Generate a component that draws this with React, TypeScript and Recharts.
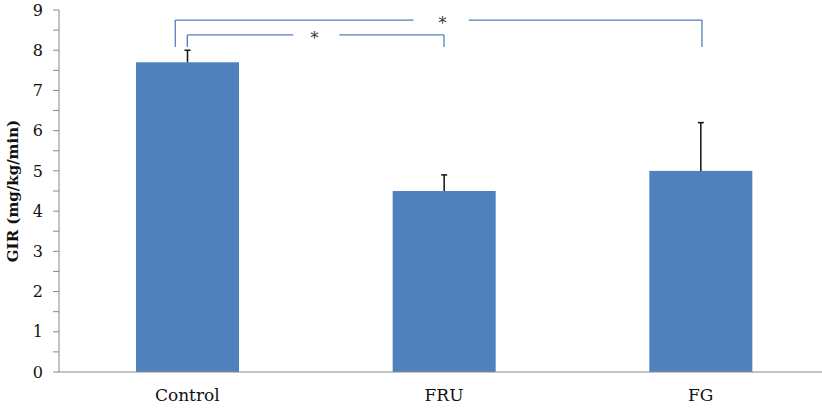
import {
  BarChart,
  Bar,
  XAxis,
  YAxis,
  ReferenceLine,
  ReferenceDot,
} from "recharts";

const groups = ["Control", "FRU", "FG"];
const gir = [7.7, 4.5, 5.0];
const errUp = [0.3, 0.4, 1.2];
const yTicks = [0, 0.5, 1, 1.5, 2, 2.5, 3, 3.5, 4, 4.5, 5, 5.5, 6, 6.5, 7, 7.5, 8, 8.5, 9];

// significance brackets, x in band units (0..3, band centres at 0.5/1.5/2.5)
const brackets = [
  { x1: 0.5, x2: 1.5, y: 8.38, foot: 8.08, gap: [0.913, 1.092], star: 0.995 },
  { x1: 0.453, x2: 2.505, y: 8.75, foot: 8.08, gap: [1.381, 1.596], star: 1.494 },
];

const data = groups.map((g, i) => ({ group: g, pos: i + 0.5, gir: gir[i], err: errUp[i] }));

const FONT = "'DejaVu Serif', serif";
const BLUE = "#4F81BD";

// bar + upward-only error whisker (px per unit taken from the bar itself)
const BarWithErr = (props: any) => {
  const { x, y, width, height, payload } = props;
  const ppu = height / payload.gir;
  const cx = x + width / 2;
  const top = y - payload.err * ppu;
  return (
    <g>
      <rect x={x} y={y} width={width} height={height} fill={BLUE} />
      <line x1={cx} x2={cx} y1={y} y2={top} stroke="#111" strokeWidth={1.5} />
      <line x1={cx - 3} x2={cx + 3} y1={top} y2={top} stroke="#111" strokeWidth={1.5} />
    </g>
  );
};

export default function App() {
  const segs = brackets.flatMap((b) => [
    [{ x: b.x1, y: b.foot }, { x: b.x1, y: b.y }],
    [{ x: b.x1, y: b.y }, { x: b.gap[0], y: b.y }],
    [{ x: b.gap[1], y: b.y }, { x: b.x2, y: b.y }],
    [{ x: b.x2, y: b.y }, { x: b.x2, y: b.foot }],
  ]);
  return (
    <div style={{ position: "absolute", left: 0, top: 0, width: 822, height: 411, overflow: "hidden", background: "#fff" }}>
      <BarChart
        width={830}
        height={411}
        data={data}
        margin={{ top: 10, right: 1, left: 0, bottom: 0 }}
        barSize={103}
      >
        <XAxis
          dataKey="group"
          height={39}
          tickLine={false}
          tickSize={0}
          tickMargin={17}
          axisLine={{ stroke: "#888" }}
          tick={{ fill: "#111", fontSize: 17, fontFamily: FONT }}
        />
        <XAxis xAxisId="n" dataKey="pos" type="number" domain={[0, 3]} allowDataOverflow hide />
        <YAxis
          width={59}
          domain={[0, 9]}
          ticks={yTicks}
          interval={0}
          tickSize={6}
          tickMargin={10}
          axisLine={{ stroke: "#888" }}
          tickLine={{ stroke: "#888" }}
          tickFormatter={(v: number) => (Number.isInteger(v) ? String(v) : "")}
          tick={{ fill: "#111", fontSize: 16, fontFamily: FONT }}
          label={{
            value: "GIR (mg/kg/min)",
            angle: -90,
            position: "insideLeft",
            offset: 13,
            style: { textAnchor: "middle", fontFamily: FONT, fontWeight: "bold", fontSize: 15, fill: "#111" },
          }}
        />
        <Bar dataKey="gir" fill={BLUE} shape={BarWithErr} isAnimationActive={false} />
        {segs.map((s, i) => (
          <ReferenceLine
            key={`seg${i}`}
            xAxisId="n"
            stroke={BLUE}
            strokeWidth={1.3}
            ifOverflow="visible"
            segment={s}
          />
        ))}
        {brackets.map((b, i) => (
          <ReferenceDot
            key={`s${i}`}
            xAxisId="n"
            x={b.star}
            y={b.y}
            r={0}
            ifOverflow="visible"
            label={{ value: "*", position: "center", dy: 3, style: { fontFamily: FONT, fontSize: 16, fill: "#333" } }}
          />
        ))}
      </BarChart>
    </div>
  );
}
